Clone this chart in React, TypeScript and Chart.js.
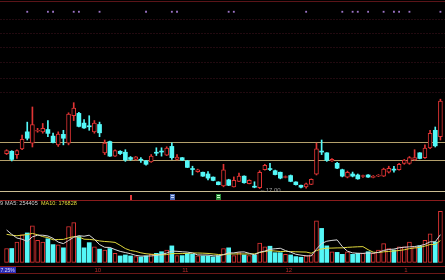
import React, { useEffect, useRef } from "react";
import { Chart, registerables } from "chart.js";
Chart.register(...registerables);

// ---- Price data (OHLC) ----
const opens = [18.8, 18.92, 18.75, 19.04, 19.92, 19.34, 19.95, 19.92, 20.04, 19.7, 19.25, 19.79, 19.34, 20.75, 20.87, 20.37, 20.22, 19.92, 20.3, 18.84, 19.42, 18.67, 18.92, 18.87, 18.6, 18.5, 18.49, 18.42, 18.37, 18.85, 18.92, 18.72, 19.17, 18.5, 18.59, 18.42, 18.02, 17.87, 17.84, 17.75, 17.59, 17.34, 17.14, 17.45, 17.09, 17.37, 17.64, 17.25, 17.1, 17.04, 17.97, 18.02, 17.92, 17.84, 17.57, 17.67, 17.34, 17.17, 17.09, 17.22, 17.74, 18.92, 18.84, 18.42, 18.3, 17.97, 17.59, 17.75, 17.7, 17.62, 17.7, 17.57, 17.64, 17.64, 17.84, 17.99, 17.97, 18.3, 18.3, 18.47, 18.84, 18.59, 19.09, 20.0, 19.67];
const highs = [19.0, 18.95, 19.0, 19.75, 20.42, 21.2, 20.1, 20.35, 20.5, 19.85, 19.92, 20.0, 20.9, 21.42, 20.92, 20.55, 20.75, 20.5, 20.42, 19.5, 19.45, 19.0, 18.95, 19.0, 18.65, 18.65, 18.6, 18.45, 18.75, 19.1, 19.1, 19.15, 19.35, 18.75, 18.6, 18.45, 18.15, 18.0, 17.85, 17.87, 17.6, 17.35, 18.25, 17.48, 17.6, 17.8, 17.65, 17.45, 17.35, 17.92, 18.25, 18.3, 17.95, 17.85, 17.65, 17.7, 17.35, 17.18, 17.28, 17.5, 19.34, 19.5, 18.85, 18.55, 18.35, 18.0, 17.9, 17.85, 17.75, 17.7, 17.72, 17.67, 17.72, 18.05, 18.15, 18.15, 18.3, 18.5, 18.65, 19.0, 18.85, 19.25, 20.0, 20.17, 21.6];
const lows = [18.75, 18.42, 18.55, 19.0, 19.5, 19.14, 19.9, 19.85, 19.67, 19.35, 19.17, 19.25, 19.25, 20.5, 20.17, 20.1, 20.0, 19.85, 19.67, 18.75, 18.65, 18.65, 18.75, 18.4, 18.45, 18.47, 18.35, 18.2, 18.35, 18.7, 18.67, 18.7, 18.5, 18.47, 18.45, 18.08, 17.7, 17.84, 17.63, 17.45, 17.4, 17.19, 17.09, 17.15, 17.08, 17.35, 17.28, 17.24, 17.04, 17.0, 17.95, 17.92, 17.7, 17.5, 17.55, 17.35, 17.18, 17.03, 17.02, 17.2, 17.7, 18.75, 18.4, 18.4, 18.03, 17.6, 17.55, 17.6, 17.48, 17.57, 17.57, 17.55, 17.62, 17.62, 17.8, 17.85, 17.95, 18.25, 18.25, 18.45, 18.53, 18.55, 19.05, 19.14, 19.5];
const closes = [18.95, 18.5, 18.95, 19.54, 19.59, 20.3, 20.0, 20.1, 19.84, 19.37, 19.8, 19.59, 20.84, 21.14, 20.2, 20.12, 20.18, 20.37, 19.87, 19.34, 18.67, 18.95, 18.8, 18.47, 18.5, 18.64, 18.46, 18.25, 18.67, 18.82, 18.88, 19.09, 18.59, 18.62, 18.47, 18.09, 17.98, 17.97, 17.64, 17.54, 17.42, 17.2, 17.97, 17.17, 17.42, 17.64, 17.3, 17.42, 17.07, 17.84, 18.2, 17.98, 17.72, 17.54, 17.62, 17.37, 17.2, 17.07, 17.25, 17.47, 19.04, 18.88, 18.45, 18.5, 18.05, 17.64, 17.84, 17.64, 17.5, 17.66, 17.59, 17.64, 17.7, 18.0, 18.04, 17.95, 18.25, 18.47, 18.59, 18.59, 18.55, 19.09, 19.84, 19.2, 21.5];

// ---- Volume data ----
const volumes = [129000, 129000, 189000, 255000, 273000, 339000, 204000, 189000, 219000, 165000, 162000, 135000, 333000, 369000, 240000, 135000, 183000, 144000, 123000, 114000, 129000, 84000, 60000, 69000, 60000, 54000, 51000, 60000, 75000, 84000, 99000, 114000, 153000, 63000, 63000, 84000, 75000, 60000, 60000, 60000, 51000, 63000, 129000, 135000, 63000, 90000, 69000, 63000, 69000, 180000, 144000, 150000, 90000, 90000, 75000, 69000, 54000, 48000, 60000, 69000, 384000, 315000, 153000, 99000, 93000, 75000, 99000, 75000, 84000, 84000, 99000, 84000, 114000, 174000, 129000, 114000, 144000, 144000, 189000, 144000, 153000, 204000, 264000, 189000, 474000];
const priorVolumes = [210000, 240000, 195000, 230000, 225000, 330000, 360000, 310000, 372000];

// ---- Annotations ----
const markerIdx = [4, 8, 9, 13, 14, 18, 27, 32, 33, 43, 44, 58, 65, 67, 68, 70, 73, 75, 76, 78, 84];
const markerLevel = 26.1;
const levelLines = [19.4, 18.45, 16.9];
const gridLevels = [25.75, 25.02, 24.3, 23.5, 22.7, 21.95];
const monthIdx = [17, 34, 54, 77];
const monthLabels = ["10", "11", "12", "1"];
const lowIdx = 49;
const lowLabel = "\u219017.00";
const iconIdx = [24, 32, 41];
const volHeadLead = "9";
const volHeadMA5 = "MA5: 254405";
const volHeadMA10 = "MA10: 176828";
const pctLabel = "7.25%";

const RED = "#e03434";
const CYAN = "#54f8f8";

export default function App() {
  const ref = useRef<HTMLCanvasElement>(null);
  useEffect(() => {
    const canvas = ref.current;
    if (!canvas) return;
    const labels = closes.map((_, i) => String(i));
    const isUp = (i: number) => closes[i] >= opens[i];
    const allVol = [...priorVolumes, ...volumes];
    const ma = (p: number) =>
      volumes.map((_, i) => {
        const j = i + priorVolumes.length;
        let s = 0;
        for (let k = 0; k < p; k++) s += allVol[j - k];
        return s / p;
      });
    const bodies = opens.map((o, i) => [o, closes[i]]);
    const wicks = lows.map((l, i) => [l, highs[i]]);
    const markers = closes.map((_, i) => (markerIdx.includes(i) ? markerLevel : null));

    const deco = {
      id: "deco",
      beforeDraw(chart: any) {
        const c = chart.ctx;
        c.save();
        c.fillStyle = "#000";
        c.fillRect(0, 0, chart.width, chart.height);
        c.restore();
      },
      beforeDatasetsDraw(chart: any) {
        const c = chart.ctx;
        const y = chart.scales.y;
        const w = chart.width;
        c.save();
        // faint grid
        c.strokeStyle = "#220a10";
        c.lineWidth = 1;
        c.setLineDash([2, 1]);
        gridLevels.forEach((g) => {
          const py = Math.round(y.getPixelForValue(g)) + 0.5;
          c.beginPath();
          c.moveTo(0, py);
          c.lineTo(w, py);
          c.stroke();
        });
        c.setLineDash([]);
        // panel borders
        c.strokeStyle = "#5a1418";
        c.beginPath();
        c.moveTo(0, 1.5);
        c.lineTo(w, 1.5);
        c.stroke();
        c.strokeStyle = "#8a1c1c";
        c.beginPath();
        c.moveTo(0, 200.5);
        c.lineTo(w, 200.5);
        c.stroke();
        c.beginPath();
        c.moveTo(0, 266.5);
        c.lineTo(w, 266.5);
        c.stroke();
        c.strokeStyle = "#6a1818";
        c.beginPath();
        c.moveTo(0, 273.5);
        c.lineTo(w, 273.5);
        c.stroke();
        // level lines
        levelLines.forEach((lv, k) => {
          const py = Math.round(y.getPixelForValue(lv)) + 0.5;
          c.strokeStyle = k === levelLines.length - 1 ? "#cbbd92" : "#b4a06c";
          c.beginPath();
          c.moveTo(0, py);
          c.lineTo(w, py);
          c.stroke();
        });
        c.restore();
      },
      afterDatasetsDraw(chart: any) {
        const c = chart.ctx;
        const x = chart.scales.x;
        const y = chart.scales.y;
        c.save();
        c.textBaseline = "middle";
        // volume header
        c.font = "5.5px 'Liberation Sans', Arial, sans-serif";
        c.fillStyle = "#d0d0d0";
        c.fillText(volHeadLead, 0, 203.5);
        c.fillText(volHeadMA5, 5, 203.5);
        c.fillStyle = "#e6de3c";
        c.fillText(volHeadMA10, 41, 203.5);
        // low label
        c.font = "6px 'Liberation Sans', Arial, sans-serif";
        c.fillStyle = "#9c9c9c";
        c.fillText(lowLabel, x.getPixelForValue(lowIdx), y.getPixelForValue(17.0) + 1.5);
        // month labels
        c.fillStyle = "#b02a2a";
        c.font = "6px 'Liberation Sans', Arial, sans-serif";
        monthIdx.forEach((mi, k) => {
          c.fillText(monthLabels[k], x.getPixelForValue(mi), 270);
        });
        // pct box
        c.fillStyle = "#2a2ab4";
        c.fillRect(0, 267, 16, 6);
        c.fillStyle = "#dcdcff";
        c.font = "5px 'Liberation Sans', Arial, sans-serif";
        c.fillText(pctLabel, 0.5, 270.2);
        // icons
        const iconCols = [
          ["#c02020", "#e03a3a"],
          ["#4a6ab0", "#c8d8ff"],
          ["#2a8a3a", "#c8ffc8"],
        ];
        iconIdx.forEach((ii, k) => {
          const px = Math.round(x.getPixelForValue(ii));
          if (k === 0) {
            c.fillStyle = iconCols[k][1];
            c.fillRect(px - 1, 195, 2, 5);
          } else {
            c.fillStyle = iconCols[k][0];
            c.fillRect(px - 2, 194, 5, 6);
            c.fillStyle = iconCols[k][1];
            c.fillRect(px - 1, 195, 3, 1);
            c.fillRect(px - 1, 197, 3, 1);
          }
        });
        c.restore();
      },
    };

    const chart = new Chart(canvas, {
      data: {
        labels,
        datasets: [
          {
            type: "line",
            label: "markers",
            data: markers,
            yAxisID: "y",
            showLine: false,
            pointStyle: "rect",
            pointRadius: 1.3,
            pointBackgroundColor: "#9c74c8",
            pointBorderWidth: 0,
            order: 0,
          } as any,
          {
            type: "line",
            label: "MA5",
            data: ma(5),
            yAxisID: "yVol",
            borderColor: "#d8d8d8",
            borderWidth: 1,
            pointRadius: 0,
            order: 0,
          },
          {
            type: "line",
            label: "MA10",
            data: ma(10),
            yAxisID: "yVol",
            borderColor: "#e0d83c",
            borderWidth: 1,
            pointRadius: 0,
            order: 0,
          },
          {
            type: "bar",
            label: "body",
            data: bodies as any,
            yAxisID: "y",
            grouped: false,
            barThickness: 4,
            minBarLength: 1,
            backgroundColor: (c: any) => (isUp(c.dataIndex) ? "#000" : CYAN),
            borderColor: (c: any) => (isUp(c.dataIndex) ? RED : CYAN),
            borderWidth: (c: any) => (isUp(c.dataIndex) ? 1 : 0),
            borderSkipped: false,
            order: 1,
          } as any,
          {
            type: "bar",
            label: "wick",
            data: wicks as any,
            yAxisID: "y",
            grouped: false,
            barThickness: 1,
            backgroundColor: (c: any) => (isUp(c.dataIndex) ? RED : CYAN),
            borderWidth: 0,
            order: 2,
          } as any,
          {
            type: "bar",
            label: "vol",
            data: volumes,
            yAxisID: "yVol",
            grouped: false,
            barThickness: 4,
            backgroundColor: (c: any) => (isUp(c.dataIndex) ? "#000" : CYAN),
            borderColor: (c: any) => (isUp(c.dataIndex) ? RED : CYAN),
            borderWidth: (c: any) => (isUp(c.dataIndex) ? 1 : 0),
            borderSkipped: false,
            order: 1,
          } as any,
        ],
      },
      options: {
        animation: false,
        responsive: false,
        devicePixelRatio: 1,
        events: [],
        layout: { padding: 0 },
        plugins: { legend: { display: false }, tooltip: { enabled: false } },
        scales: {
          x: { type: "category", display: false, offset: true },
          y: { type: "linear", display: false, min: 12.5, max: 26.5 },
          yVol: { type: "linear", display: false, min: -126000, max: 2394000 },
        },
      },
      plugins: [deco],
    } as any);
    return () => chart.destroy();
  }, []);

  return (
    <div
      style={{
        position: "fixed",
        left: 0,
        top: 0,
        width: 445,
        height: 280,
        overflow: "hidden",
        background: "#000",
      }}
    >
      <canvas ref={ref} width={447} height={280} style={{ display: "block", width: 447, height: 280 }} />
    </div>
  );
}
